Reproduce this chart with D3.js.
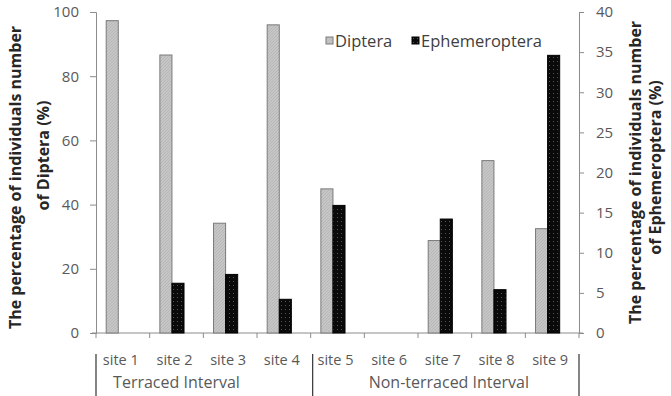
<!DOCTYPE html>
<html>
<head>
<meta charset="utf-8">
<script src="https://cdn.jsdelivr.net/npm/d3@7"></script>
<style>
  body { margin: 0; background: #fff; }
  text { font-family: "Open Sans", "Noto Sans", sans-serif; }
</style>
</head>
<body>
<div id="chart"></div>
<script>
const sites = ['site 1', 'site 2', 'site 3', 'site 4', 'site 5', 'site 6', 'site 7', 'site 8', 'site 9'];
const diptera = [97.3, 86.6, 34.2, 96, 44.9, 0, 28.8, 53.7, 32.5];
const ephemeroptera = [0, 6.2, 7.3, 4.2, 15.9, 0, 14.2, 5.4, 34.6];
const leftTicks = [0, 20, 40, 60, 80, 100];
const rightTicks = [0, 5, 10, 15, 20, 25, 30, 35, 40];
const groups = [
  { label: 'Terraced Interval', center: 'site 2' },
  { label: 'Non-terraced Interval', center: 'site 7' },
];

const width = 671;
const height = 396;
const margin = { top: 12, right: 92, bottom: 63, left: 96 };

const svg = d3.select('#chart')
  .append('svg')
  .attr('width', width)
  .attr('height', height);

const defs = svg.append('defs');

// light gray with faint hatch for Diptera
const hatch = defs.append('pattern')
  .attr('id', 'dipt')
  .attr('width', 3)
  .attr('height', 3)
  .attr('patternUnits', 'userSpaceOnUse');
hatch.append('rect').attr('width', 3).attr('height', 3).attr('fill', '#c6c6c6');
hatch.append('path').attr('d', 'M0,3 L3,0').attr('stroke', '#b4b4b4').attr('stroke-width', 0.8);

// black with gray dots for Ephemeroptera
const dots = defs.append('pattern')
  .attr('id', 'ephe')
  .attr('width', 4)
  .attr('height', 4)
  .attr('patternUnits', 'userSpaceOnUse');
dots.append('rect').attr('width', 4).attr('height', 4).attr('fill', '#0a0a0a');
dots.append('rect').attr('x', 1).attr('y', 1).attr('width', 1).attr('height', 1).attr('fill', '#555');

const x = d3.scaleBand()
  .domain(sites)
  .range([margin.left, width - margin.right]);

const yLeft = d3.scaleLinear()
  .domain([0, 100])
  .range([height - margin.bottom, margin.top]);

const yRight = d3.scaleLinear()
  .domain([0, 40])
  .range([height - margin.bottom, margin.top]);

const barW = x.bandwidth() * 0.225;
const barOff = x.bandwidth() * 0.19;

const axisColor = '#8c8c8c';
const labelColor = '#595959';

// left axis
const gLeft = svg.append('g')
  .attr('transform', `translate(${margin.left},0)`)
  .call(d3.axisLeft(yLeft).tickValues(leftTicks).tickSize(6).tickPadding(11));

// right axis
const gRight = svg.append('g')
  .attr('transform', `translate(${width - margin.right},0)`)
  .call(d3.axisRight(yRight).tickValues(rightTicks).tickSize(5).tickPadding(12));

// bottom axis, ticks on band edges
const edges = sites.map((s) => x(s)).concat([x(sites[sites.length - 1]) + x.bandwidth()]);
const gBottom = svg.append('g')
  .attr('transform', `translate(0,${height - margin.bottom})`);
gBottom.append('line')
  .attr('x1', margin.left - 4)
  .attr('x2', width - margin.right + 4)
  .attr('stroke', axisColor);
gBottom.selectAll('line.tick')
  .data(edges)
  .join('line')
  .attr('class', 'tick')
  .attr('x1', (d) => d)
  .attr('x2', (d) => d)
  .attr('y1', 0)
  .attr('y2', 5)
  .attr('stroke', axisColor);
gBottom.selectAll('text.site')
  .data(sites)
  .join('text')
  .attr('class', 'site')
  .attr('x', (d) => x(d) + x.bandwidth() / 2 - 2)
  .attr('y', 32)
  .attr('text-anchor', 'middle')
  .attr('fill', labelColor)
  .attr('font-size', 14.5)
  .text((d) => d);

[gLeft, gRight].forEach((g) => {
  g.select('.domain').attr('stroke', axisColor);
  g.selectAll('.tick line').attr('stroke', axisColor);
  g.selectAll('.tick text')
    .attr('fill', labelColor)
    .attr('font-size', 15)
    .style('font-family', '"Open Sans", sans-serif');
});

// group brackets
const bracketLines = [x('site 1'), x('site 5'), x('site 9') + x.bandwidth()];
svg.selectAll('line.bracket')
  .data(bracketLines)
  .join('line')
  .attr('class', 'bracket')
  .attr('x1', (d, i) => d + [0, 2, 0][i])
  .attr('x2', (d, i) => d + [0, 2, 0][i])
  .attr('y1', 354)
  .attr('y2', height)
  .attr('stroke', '#333')
  .attr('stroke-width', 1.2);

svg.selectAll('text.group')
  .data(groups)
  .join('text')
  .attr('class', 'group')
  .attr('x', (d, i) => x(d.center) + x.bandwidth() / 2 + [0, 4][i])
  .attr('y', 388)
  .attr('text-anchor', 'middle')
  .attr('fill', labelColor)
  .attr('font-size', 16)
  .text((d) => d.label);

// bars
const gBars = svg.append('g');
gBars.selectAll('rect.dipt')
  .data(sites.map((s, i) => ({ site: s, v: diptera[i] })).filter((d) => d.v > 0))
  .join('rect')
  .attr('class', 'dipt')
  .attr('x', (d) => x(d.site) + barOff)
  .attr('width', barW)
  .attr('y', (d) => yLeft(d.v))
  .attr('height', (d) => yLeft(0) - yLeft(d.v))
  .attr('fill', 'url(#dipt)')
  .attr('stroke', '#7a7a7a')
  .attr('stroke-width', 1);

gBars.selectAll('rect.ephe')
  .data(sites.map((s, i) => ({ site: s, v: ephemeroptera[i] })).filter((d) => d.v > 0))
  .join('rect')
  .attr('class', 'ephe')
  .attr('x', (d) => x(d.site) + barOff + barW)
  .attr('width', barW)
  .attr('y', (d) => yRight(d.v))
  .attr('height', (d) => yRight(0) - yRight(d.v))
  .attr('fill', 'url(#ephe)')
  .attr('stroke', '#000')
  .attr('stroke-width', 1);

// legend
const legend = svg.append('g').attr('transform', 'translate(326,37)');
const legendItems = [
  { label: 'Diptera', fill: 'url(#dipt)', stroke: '#7a7a7a', dx: 0 },
  { label: 'Ephemeroptera', fill: 'url(#ephe)', stroke: '#000', dx: 86 },
];
const li = legend.selectAll('g')
  .data(legendItems)
  .join('g')
  .attr('transform', (d) => `translate(${d.dx},0)`);
li.append('rect')
  .attr('width', 7)
  .attr('height', 7)
  .attr('fill', (d) => d.fill)
  .attr('stroke', (d) => d.stroke);
li.append('text')
  .attr('x', 9)
  .attr('y', 4)
  .attr('dy', '0.35em')
  .attr('fill', '#404040')
  .attr('font-size', 16.5)
  .text((d) => d.label);

// axis titles
const plotMid = (margin.top + height - margin.bottom) / 2;
const titleStyle = (t) => t
  .attr('text-anchor', 'middle')
  .attr('font-size', 16)
  .attr('font-weight', 'bold')
  .attr('fill', '#262626');

titleStyle(svg.append('text'))
  .attr('transform', `translate(21,${plotMid + 5}) rotate(-90)`)
  .text('The percentage of individuals number');
titleStyle(svg.append('text'))
  .attr('transform', `translate(49,${plotMid - 17}) rotate(-90)`)
  .text('of Diptera (%)');
titleStyle(svg.append('text'))
  .attr('transform', `translate(641,${plotMid}) rotate(-90)`)
  .text('The percentage of individuals number');
titleStyle(svg.append('text'))
  .attr('transform', `translate(661,${plotMid - 5}) rotate(-90)`)
  .text('of Ephemeroptera (%)');
</script>
</body>
</html>
